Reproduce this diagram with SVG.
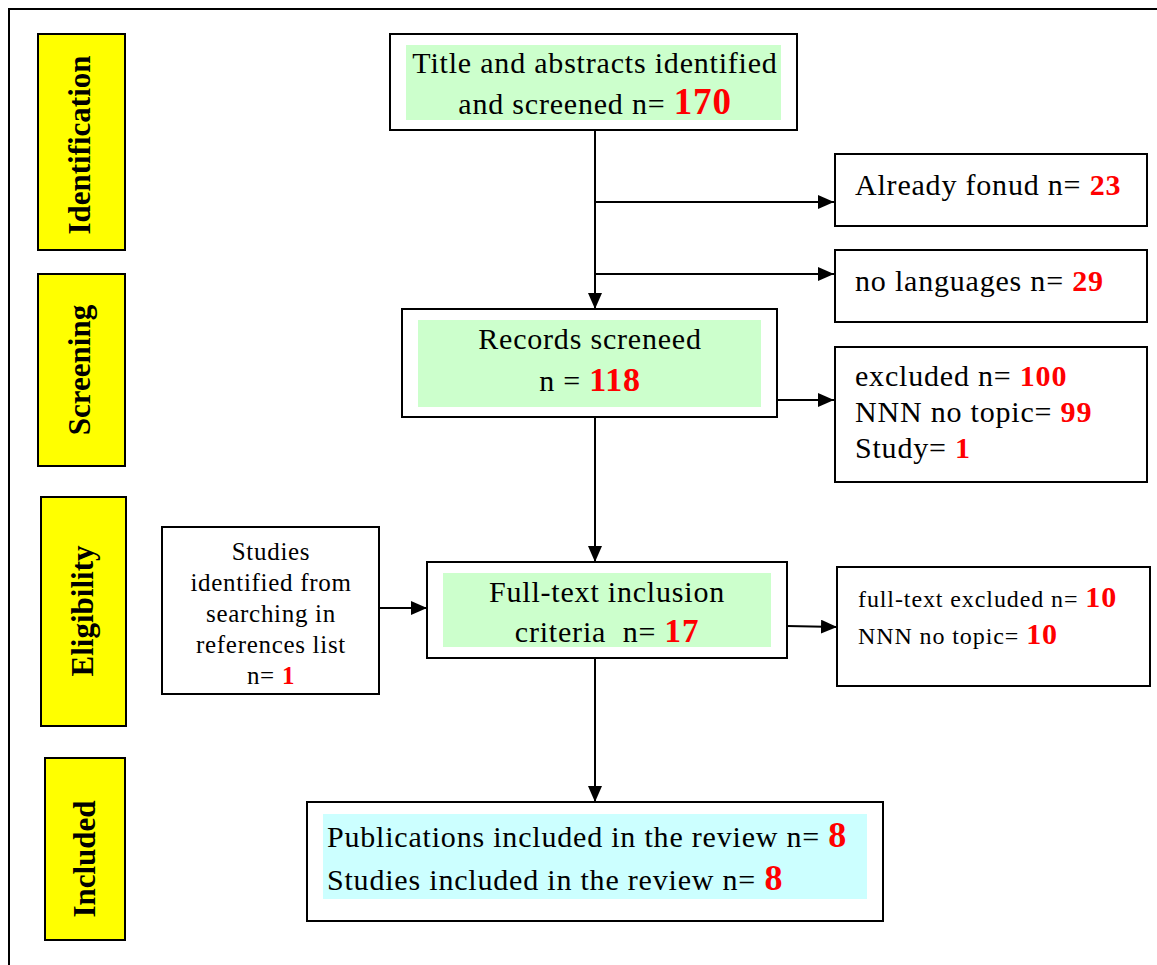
<svg xmlns="http://www.w3.org/2000/svg" width="1157" height="965" viewBox="0 0 1157 965">
<style>
.box{fill:#fff;stroke:#000;stroke-width:2}
.stage{fill:#ffff00;stroke:#000;stroke-width:2}
.green{fill:#ccffcc}
.cyan{fill:#ccffff}
.t{font-family:"Liberation Serif","Times New Roman",serif;fill:#000;font-size:30px;letter-spacing:0.8px}
.s{font-family:"Liberation Serif","Times New Roman",serif;fill:#000;font-size:25px;letter-spacing:0.7px}
.f{font-family:"Liberation Serif","Times New Roman",serif;fill:#000;font-size:24px;letter-spacing:0.9px}
.lbl{font-family:"Liberation Serif","Times New Roman",serif;font-weight:bold;font-size:31px;fill:#000}
.r{fill:#ff0000;font-weight:bold}
.ln{stroke:#000;stroke-width:2;fill:none}
</style>
<defs>
<marker id="ah2" markerWidth="16" markerHeight="14" refX="16" refY="7" orient="auto" markerUnits="userSpaceOnUse" viewBox="0 0 16 14">
<path d="M0,0 L16,7 L0,14 Z" fill="#000"/>
</marker>
</defs>
<rect width="1157" height="965" fill="#fff"/>
<path d="M9,965 L9,9 L1157,9" class="ln"/>

<g id="stage-identification">
<rect class="stage" x="38" y="34" width="87" height="216"/>
<text class="lbl" transform="translate(90,145) rotate(-90)" text-anchor="middle">Identification</text>
</g>
<g id="stage-screening">
<rect class="stage" x="38" y="274" width="87" height="192"/>
<text class="lbl" transform="translate(90,370) rotate(-90)" text-anchor="middle">Screening</text>
</g>
<g id="stage-eligibility">
<rect class="stage" x="41" y="497" width="85" height="229"/>
<text class="lbl" transform="translate(93,611) rotate(-90)" text-anchor="middle">Eligibility</text>
</g>
<g id="stage-included">
<rect class="stage" x="45" y="758" width="80" height="182"/>
<text class="lbl" transform="translate(95,859) rotate(-90)" text-anchor="middle">Included</text>
</g>

<g id="connectors">
<line class="ln" x1="595" y1="130" x2="595" y2="309" marker-end="url(#ah2)"/>
<line class="ln" x1="595" y1="202" x2="834" y2="202" marker-end="url(#ah2)"/>
<line class="ln" x1="595" y1="274" x2="834" y2="274" marker-end="url(#ah2)"/>
<line class="ln" x1="777" y1="400" x2="834" y2="400" marker-end="url(#ah2)"/>
<line class="ln" x1="595" y1="417" x2="595" y2="562" marker-end="url(#ah2)"/>
<line class="ln" x1="379" y1="608" x2="427" y2="608" marker-end="url(#ah2)"/>
<line class="ln" x1="787" y1="626" x2="837" y2="627" marker-end="url(#ah2)"/>
<line class="ln" x1="595" y1="658" x2="595" y2="802" marker-end="url(#ah2)"/>
</g>

<g id="node-title">
<rect class="box" x="390" y="34" width="407" height="96"/>
<rect class="green" x="406" y="45" width="375" height="75"/>
<text class="t" x="595" y="73" text-anchor="middle">Title and abstracts identified</text>
<text class="t" x="595" y="114" text-anchor="middle">and screened n= <tspan class="r" font-size="37">170</tspan></text>
</g>

<g id="node-already">
<rect class="box" x="835" y="154" width="312" height="72"/>
<text class="t" x="855" y="195">Already fonud n= <tspan class="r">23</tspan></text>
</g>

<g id="node-languages">
<rect class="box" x="835" y="250" width="312" height="72"/>
<text class="t" x="855" y="291">no languages n= <tspan class="r">29</tspan></text>
</g>

<g id="node-records">
<rect class="box" x="402" y="309" width="375" height="108"/>
<rect class="green" x="418" y="320" width="343" height="87"/>
<text class="t" x="590" y="349" text-anchor="middle">Records screneed</text>
<text class="t" x="590" y="391" text-anchor="middle">n = <tspan class="r" font-size="34">118</tspan></text>
</g>

<g id="node-excluded">
<rect class="box" x="835" y="347" width="312" height="135"/>
<text class="t" x="855" y="386">excluded n= <tspan class="r">100</tspan></text>
<text class="t" x="855" y="422">NNN no topic= <tspan class="r">99</tspan></text>
<text class="t" x="855" y="458">Study= <tspan class="r">1</tspan></text>
</g>

<g id="node-studies-refs">
<rect class="box" x="162" y="527" width="217" height="167"/>
<text class="s" x="271" y="560" text-anchor="middle">Studies</text>
<text class="s" x="271" y="591" text-anchor="middle">identified from</text>
<text class="s" x="271" y="622" text-anchor="middle">searching in</text>
<text class="s" x="271" y="653" text-anchor="middle">references list</text>
<text class="s" x="271" y="684" text-anchor="middle">n= <tspan class="r">1</tspan></text>
</g>

<g id="node-fulltext">
<rect class="box" x="427" y="562" width="360" height="96"/>
<rect class="green" x="443" y="573" width="328" height="74"/>
<text class="t" x="607" y="602" text-anchor="middle">Full-text inclusion</text>
<text class="t" x="607" y="642" text-anchor="middle" xml:space="preserve">criteria  n= <tspan class="r" font-size="33">17</tspan></text>
</g>

<g id="node-fulltext-excluded">
<rect class="box" x="837" y="567" width="313" height="119"/>
<text class="f" x="858" y="607">full-text excluded n= <tspan class="r" font-size="30">10</tspan></text>
<text class="f" x="858" y="644">NNN no topic= <tspan class="r" font-size="30">10</tspan></text>
</g>

<g id="node-included">
<rect class="box" x="307" y="802" width="576" height="119"/>
<rect class="cyan" x="323" y="814" width="544" height="85"/>
<text class="t" x="327" y="847">Publications included in the review n= <tspan class="r" font-size="36">8</tspan></text>
<text class="t" x="327" y="890">Studies included in the review n= <tspan class="r" font-size="36">8</tspan></text>
</g>
</svg>
